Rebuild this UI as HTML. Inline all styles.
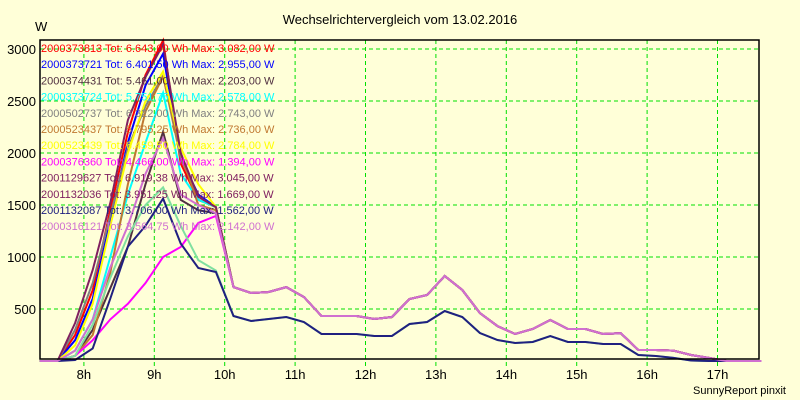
<!DOCTYPE html>
<html><head><meta charset="utf-8">
<style>
html,body{margin:0;padding:0;background:#ffffd8;}
svg{display:block;font-family:"Liberation Sans",sans-serif;}
</style></head>
<body>
<svg id="chart" width="800" height="400">
<rect x="0" y="0" width="800" height="400" fill="#ffffd8"/>
<text x="400" y="24" text-anchor="middle" font-size="13" fill="#000">Wechselrichtervergleich vom 13.02.2016</text>
<text x="35" y="31" font-size="13" fill="#000">W</text>
<text x="786" y="394" text-anchor="end" font-size="11" fill="#000">SunnyReport pinxit</text>
<g id="grid"></g><g id="series"></g><g id="legend"></g><g id="axes"></g>
</svg>
<script>
const yTicks=[500,1000,1500,2000,2500,3000];
const xTicks=[8,9,10,11,12,13,14,15,16,17];
const times=[7.375,7.625,7.875,8.125,8.375,8.625,8.875,9.125,9.375,9.625,9.875,10.125,10.375,10.625,10.875,11.125,11.375,11.625,11.875,12.125,12.375,12.625,12.875,13.125,13.375,13.625,13.875,14.125,14.375,14.625,14.875,15.125,15.375,15.625,15.875,16.125,16.375,16.625,16.875,17.125,17.375,17.625];
const tailHigh=[711,654,663,711,615,433,433,433,404,423,596,635,817,683,462,336,260,308,394,308,308,260,267,106,106,100,58,30,0,0,0];
const tailLow=[433,385,404,423,375,260,260,260,240,240,356,375,481,423,269,202,173,183,240,183,183,163,163,58,48,30,5,0,0,0,0];
const names=["2000373813","2000373721","2000374431","2000373724","2000502737","2000523437","2000523439","2000376360","2001129627","2001132036","2001132087","2000316121"];
const totals=["6.643,00","6.401,50","5.461,00","5.751,75","6.322,00","5.795,25","6.459,50","4.466,00","6.919,38","3.951,25","3.706,00","3.564,75"];
const maxes=["3.082,00","2.955,00","2.203,00","2.578,00","2.743,00","2.736,00","2.784,00","1.394,00","3.045,00","1.669,00","1.562,00","2.142,00"];
const textColors=["#ff0000","#0000ff","#503040","#00ffff","#808080","#c07830","#ffff00","#ff00ff","#802060","#802060","#202080","#d070d0"];
const lineColors=["#ff0000","#0000ff","#503040","#00ffff","#808080","#c07830","#ffff00","#ff00ff","#802060","#80e0a0","#202080","#d070d0"];
const morning=[
[0,0,250,680,1450,2200,2750,3082,1900,1550,1480],
[0,0,200,600,1350,2100,2650,2955,1950,1600,1480],
[0,0,50,300,700,1100,1700,2203,1550,1450,1420],
[0,0,100,400,1000,1600,2100,2578,1800,1550,1480],
[0,0,300,750,1400,2050,2450,2743,1950,1580,1480],
[0,0,50,250,850,1700,2400,2736,2000,1500,1450],
[0,0,150,550,1300,2000,2500,2784,2050,1700,1480],
[0,0,50,200,400,550,750,1000,1096,1327,1394],
[0,0,365,875,1520,2317,2730,3045,2000,1580,1480],
[0,0,50,350,800,1200,1500,1669,1300,970,870],
[0,0,10,120,600,1100,1300,1562,1130,894,856],
[0,0,100,400,900,1300,1800,2142,1600,1500,1420]
];
const useLow=[false,false,false,false,false,false,false,false,false,true,true,false];
const NS="http://www.w3.org/2000/svg";
const X0=40,X1=759,Y0=359,YT=40;
function xs(h){return 154.3+(h-9)*70.4;}
function ys(v){return 361-v*0.104;}
const grid=document.getElementById('grid');
yTicks.forEach(v=>{
 const l=document.createElementNS(NS,'line');
 
 
 l.setAttribute('x1',X0);l.setAttribute('x2',X1);l.setAttribute('y1',ys(v));l.setAttribute('y2',ys(v));
 l.setAttribute('stroke','#00e000');l.setAttribute('stroke-dasharray','4,3');grid.appendChild(l);
 const t=document.createElementNS(NS,'text');
 
 
 t.setAttribute('x',36);t.setAttribute('y',ys(v)+5);t.setAttribute('text-anchor','end');t.setAttribute('font-size','13');
 t.textContent=v;grid.appendChild(t);
});
xTicks.forEach(h=>{
 const l=document.createElementNS(NS,'line');
 
 
 l.setAttribute('x1',xs(h));l.setAttribute('x2',xs(h));l.setAttribute('y1',YT);l.setAttribute('y2',Y0+7);
 l.setAttribute('stroke','#00e000');l.setAttribute('stroke-dasharray','4,3');grid.appendChild(l);
 const t=document.createElementNS(NS,'text');
 
 
 t.setAttribute('x',xs(h));t.setAttribute('y',379);t.setAttribute('text-anchor','middle');t.setAttribute('font-size','13');
 t.textContent=h+'h';grid.appendChild(t);
});
const sg=document.getElementById('series');
names.forEach((n,i)=>{
 const vals=morning[i].concat(useLow[i]?tailLow:tailHigh);
 const pts=vals.map((v,k)=>xs(times[k]).toFixed(1)+','+ys(v).toFixed(1)).join(' ');
 const p=document.createElementNS(NS,'polyline');
 
 
 p.setAttribute('points',pts);p.setAttribute('fill','none');p.setAttribute('stroke',lineColors[i]);p.setAttribute('stroke-width','2');
 sg.appendChild(p);
});
const lg=document.getElementById('legend');
names.forEach((n,i)=>{
 const t=document.createElementNS(NS,'text');
 
 
 t.setAttribute('x',41);t.setAttribute('y',52+i*16.2);t.setAttribute('font-size','11');t.setAttribute('fill',textColors[i]);
 t.textContent=n+' Tot: '+totals[i]+' Wh Max: '+maxes[i]+' W';lg.appendChild(t);
});
const ax=document.getElementById('axes');
const fr=document.createElementNS(NS,'rect');


fr.setAttribute('x',X0);fr.setAttribute('y',YT);fr.setAttribute('width',X1-X0);fr.setAttribute('height',Y0-YT);
fr.setAttribute('fill','none');fr.setAttribute('stroke','#000');fr.setAttribute('stroke-width','1.5');ax.appendChild(fr);
</script>
</body></html>
